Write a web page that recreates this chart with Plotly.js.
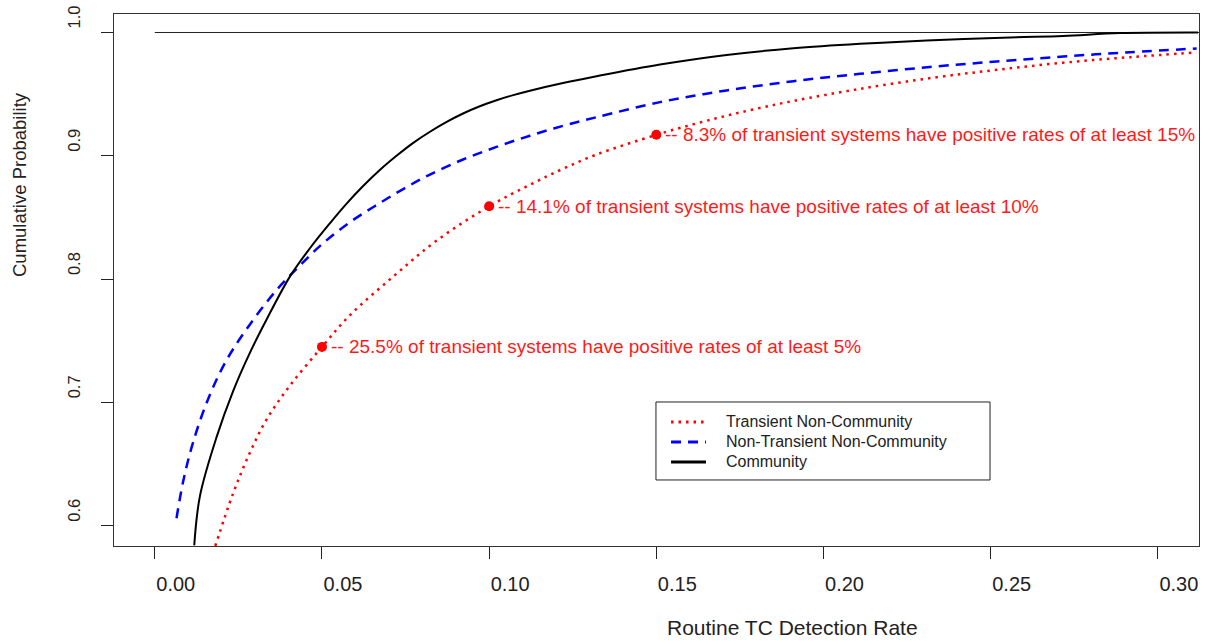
<!DOCTYPE html>
<html>
<head>
<meta charset="utf-8">
<script src="https://cdn.plot.ly/plotly-3.0.1.min.js"></script>
<style>
html,body{margin:0;padding:0;background:#fff;}
#chart{width:1208px;height:641px;}
</style>
</head>
<body>
<div id="chart"></div>
<script>
// Transient Non-Community (red dotted)
const tncX = [0.0181,0.0234,0.0284,0.0334,0.0404,0.05,0.0583,0.0713,0.0842,0.10,0.1122,0.1221,0.1321,0.15,0.161,0.171,0.181,0.191,0.2109,0.2333,0.2518,0.2717,0.2917,0.3116];
const tncY = [0.5835,0.626,0.659,0.686,0.7135,0.745,0.7705,0.802,0.831,0.859,0.8765,0.8895,0.901,0.917,0.9255,0.9325,0.9388,0.9445,0.9543,0.9635,0.9697,0.9755,0.980,0.9838];
// Non-Transient Non-Community (blue dashed)
const ntncX = [0.0065,0.0085,0.0115,0.0160,0.0214,0.0284,0.0364,0.0434,0.0503,0.0583,0.0663,0.0743,0.0823,0.0922,0.1022,0.1122,0.1221,0.1321,0.1511,0.171,0.191,0.2109,0.2318,0.2518,0.2717,0.2917,0.3116];
const ntncY = [0.606,0.636,0.668,0.703,0.734,0.763,0.791,0.811,0.829,0.846,0.860,0.873,0.8848,0.897,0.9072,0.9163,0.9243,0.9313,0.9435,0.953,0.9605,0.9665,0.972,0.9765,0.9805,0.984,0.987];
// Community (black solid)
const comX = [0.0118,0.0135,0.0185,0.0234,0.0284,0.0334,0.0404,0.0464,0.0523,0.0573,0.0623,0.0673,0.0723,0.0773,0.0823,0.0873,0.0922,0.0972,0.1022,0.1072,0.1122,0.1221,0.1321,0.1511,0.171,0.191,0.2109,0.2308,0.2558,0.2717,0.2887,0.312];
const comY = [0.584,0.624,0.672,0.709,0.740,0.767,0.802,0.825,0.845,0.861,0.8755,0.8885,0.900,0.9105,0.9195,0.9275,0.9343,0.9402,0.945,0.9492,0.9528,0.959,0.9645,0.974,0.9818,0.9872,0.9908,0.9935,0.996,0.9972,0.9995,1.0];
// Reference line at probability 1
const refX = [0, 0.33];
const refY = [1, 1];
// Highlighted points on the transient curve
const markX = [0.05, 0.10, 0.15];
const markY = [0.745, 0.859, 0.917];
const markLabels = [
  "-- 25.5% of transient systems have positive rates of at least 5%",
  "-- 14.1% of transient systems have positive rates of at least 10%",
  "-- 8.3% of transient systems have positive rates of at least 15%"
];
const xTicks = [0, 0.05, 0.10, 0.15, 0.20, 0.25, 0.30];
const yTicks = [0.6, 0.7, 0.8, 0.9, 1.0];
const seriesNames = ["Transient Non-Community", "Non-Transient Non-Community", "Community"];
const seriesColors = ["#ff0000", "#0000ff", "#000000"];
const seriesDash = ["2.5px,5px", "10px,7px", "solid"];
const seriesWidth = [2.5, 2.5, 2];

const FONT = "Liberation Sans, Arial, Helvetica, sans-serif";
const seriesX = [tncX, ntncX, comX];
const seriesY = [tncY, ntncY, comY];

const traces = [
  {x: refX, y: refY, mode: "lines", line: {color: "#222", width: 1}, showlegend: false, hoverinfo: "skip"}
];
for (let i = 0; i < 3; i++) {
  traces.push({x: seriesX[i], y: seriesY[i], mode: "lines", name: seriesNames[i], showlegend: false,
    line: {color: seriesColors[i], width: seriesWidth[i], dash: seriesDash[i], shape: "spline", smoothing: 1}});
}
traces.push({x: markX, y: markY, mode: "markers", marker: {color: "#ff0000", size: 10}, showlegend: false});

const annotations = markX.map((x, i) => ({
  x: x, y: markY[i], xref: "x", yref: "y", text: markLabels[i], showarrow: false,
  xanchor: "left", yanchor: "middle", xshift: 7,
  font: {family: FONT, size: 19, color: "#ff1a1a"}
}));
annotations.push({
  text: "Routine TC Detection Rate", xref: "paper", yref: "paper", x: 0.625, y: -0.154,
  xanchor: "center", yanchor: "middle", showarrow: false,
  font: {family: FONT, size: 21, color: "#222"}
});
annotations.push({
  text: "Cumulative Probability", xref: "paper", yref: "paper", x: -0.0866, y: 0.6786,
  xanchor: "center", yanchor: "middle", showarrow: false, textangle: -90,
  font: {family: FONT, size: 18.5, color: "#222"}
});

// Legend box (drawn by hand to match the compact row spacing)
const legX0 = 0.4995, legX1 = 0.8074, legY0 = 0.1241, legY1 = 0.2707;
const legRowY = [0.2331, 0.1955, 0.1579];
const legLineX = [0.5134, 0.5456];
const legTextX = 0.5622;
const shapes = [{type: "rect", xref: "paper", yref: "paper", x0: legX0, x1: legX1, y0: legY0, y1: legY1,
  line: {color: "#222", width: 1}, fillcolor: "#fff", layer: "above"}];
for (let i = 0; i < 3; i++) {
  shapes.push({type: "line", xref: "paper", yref: "paper", x0: legLineX[0], x1: legLineX[1], y0: legRowY[i], y1: legRowY[i],
    line: {color: seriesColors[i], width: 3, dash: seriesDash[i]}, layer: "above"});
  annotations.push({text: seriesNames[i], xref: "paper", yref: "paper", x: legTextX, y: legRowY[i],
    xanchor: "left", yanchor: "middle", showarrow: false,
    font: {family: FONT, size: 16, color: "#222"}});
}

const layout = {
  width: 1208, height: 641,
  margin: {l: 114, r: 9, t: 14, b: 95},
  paper_bgcolor: "#fff", plot_bgcolor: "#fff",
  font: {family: FONT, color: "#222"},
  xaxis: {
    range: [-0.0122, 0.3123], tickvals: xTicks, tickformat: ".2f",
    showgrid: false, zeroline: false, showline: true, mirror: true,
    linecolor: "#333", linewidth: 1, ticks: "outside", ticklen: 12, tickcolor: "#222",
    tickfont: {family: FONT, size: 20, color: "#222"},
    ticklabelshift: 21, ticklabelstandoff: 8
  },
  yaxis: {
    range: [0.5835, 1.015], tickvals: yTicks, tickformat: ".1f",
    showgrid: false, zeroline: false, showline: true, mirror: true,
    linecolor: "#333", linewidth: 1, ticks: "outside", ticklen: 12, tickcolor: "#222",
    tickangle: -90,
    tickfont: {family: FONT, size: 16.5, color: "#222"},
    ticklabelshift: -13, ticklabelstandoff: 14
  },
  shapes: shapes,
  annotations: annotations,
  showlegend: false
};

Plotly.newPlot("chart", traces, layout, {displayModeBar: false, staticPlot: true});
</script>
</body>
</html>
